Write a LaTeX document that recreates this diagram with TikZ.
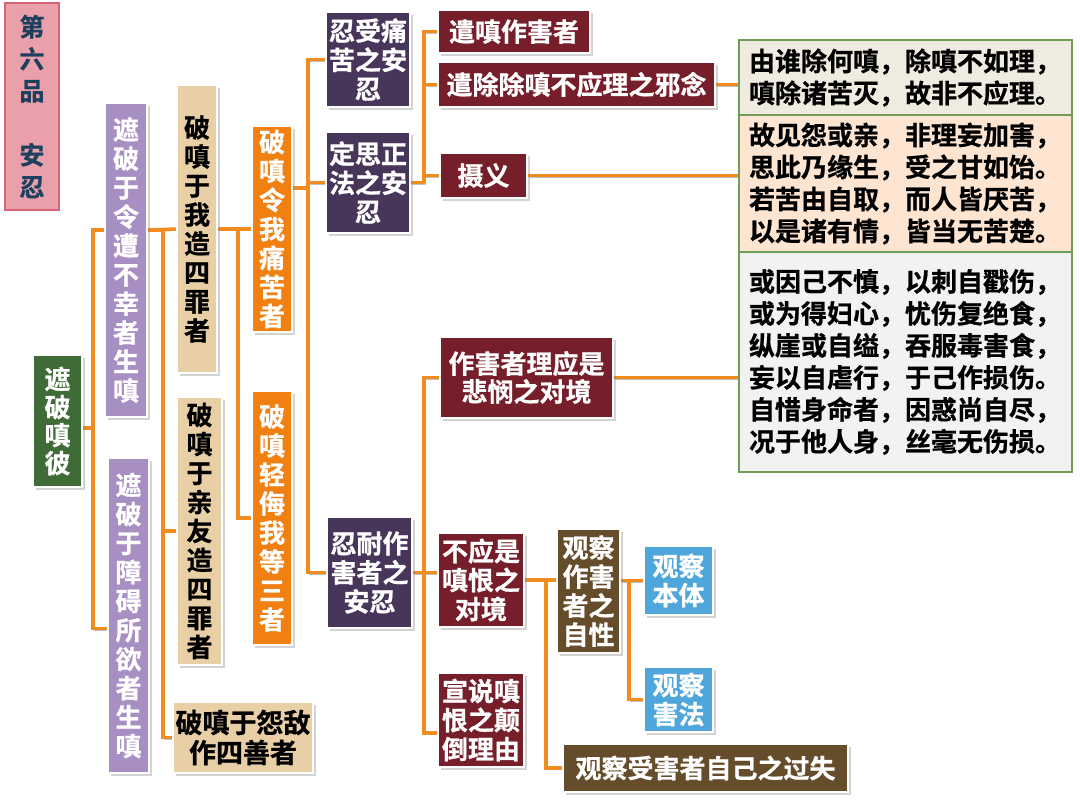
\documentclass[tikz,border=0pt]{standalone}
\usepackage{fontspec}
\setmainfont{Noto Sans CJK SC}[BoldFont={Noto Sans CJK SC Bold}, BoldFeatures={FakeBold=0.8}]
\usetikzlibrary{shadows, backgrounds, calc}
\definecolor{titlepink}{RGB}{233,160,170}
\definecolor{titleline}{RGB}{215,100,115}
\definecolor{titleblue}{RGB}{28,64,94}
\definecolor{leafgreen}{RGB}{63,107,55}
\definecolor{lilac}{RGB}{168,143,195}
\definecolor{sand}{RGB}{233,207,166}
\definecolor{vivid}{RGB}{240,128,18}
\definecolor{plum}{RGB}{71,54,90}
\definecolor{wine}{RGB}{118,30,42}
\definecolor{umber}{RGB}{101,76,42}
\definecolor{sky}{RGB}{78,166,218}
\definecolor{noteA}{RGB}{240,235,225}
\definecolor{noteB}{RGB}{253,229,210}
\definecolor{noteC}{RGB}{242,242,242}
\definecolor{noteline}{RGB}{110,158,85}
\definecolor{linkorange}{RGB}{242,140,30}

\begin{document}
\begin{tikzpicture}[x=1pt, y=-1pt,
    box/.style={inner sep=0pt, draw=white, line width=1.6pt, text=white, align=center,
        font=\bfseries\fontsize{26}{29}\selectfont,
        drop shadow={shadow xshift=2.5pt, shadow yshift=-2.5pt, opacity=0.35}},
    wh/.style 2 args={minimum width=#1pt, minimum height=#2pt},
    note/.style={inner xsep=10pt, inner ysep=0pt, draw=noteline, line width=1.4pt,
        text width=313pt, align=left, font=\bfseries\fontsize{26}{32}\selectfont},
    link/.style={draw=linkorange, line width=3.5pt,
        preaction={draw=black!25, transform canvas={shift={(1.5pt,-1.5pt)}}}}]
    \useasboundingbox (0,0) rectangle (1080,807);

    \node[inner sep=0pt, wh={54}{207}, fill=titlepink, draw=titleline, line width=2pt,
        text=titleblue, align=center, font=\bfseries\fontsize{25}{32}\selectfont]
        (title) at (32,106.5) {第\\六\\品\\[32pt]安\\忍};

    \node[box, wh={49}{132}, fill=leafgreen, font=\bfseries\fontsize{26}{28}\selectfont]
        (zp) at (57.5,421) {遮\\破\\嗔\\彼};

    \node[box, wh={42}{314}, fill=lilac] (pu1) at (126,260) {遮\\破\\于\\令\\遭\\不\\幸\\者\\生\\嗔};
    \node[box, wh={41}{315}, fill=lilac] (pu2) at (128.5,615.5) {遮\\破\\于\\障\\碍\\所\\欲\\者\\生\\嗔};

    \node[box, wh={40}{288}, fill=sand, text=black] (tan1) at (197,229) {破\\嗔\\于\\我\\造\\四\\罪\\者};
    \node[box, wh={45}{268}, fill=sand, text=black] (tan2) at (199.5,531) {破\\嗔\\于\\亲\\友\\造\\四\\罪\\者};
    \node[box, wh={140}{71}, fill=sand, text=black, font=\bfseries\fontsize{27}{30}\selectfont]
        (tan3) at (243,737.5) {破嗔于怨敌\\作四善者};

    \node[box, wh={40}{206}, fill=vivid] (or1) at (272,229) {破\\嗔\\令\\我\\痛\\苦\\者};
    \node[box, wh={40}{254}, fill=vivid] (or2) at (272,518) {破\\嗔\\轻\\侮\\我\\等\\三\\者};

    \node[box, wh={84}{95}, fill=plum] (dp1) at (368,59.5) {忍受痛\\苦之安\\忍};
    \node[box, wh={84}{101}, fill=plum] (dp2) at (368,182.5) {定思正\\法之安\\忍};
    \node[box, wh={85}{111}, fill=plum] (dp3) at (369.5,572.5) {忍耐作\\害者之\\安忍};

    \node[box, wh={152}{43}, fill=wine] (m1) at (514,31.5) {遣嗔作害者};
    \node[box, wh={277}{45}, fill=wine] (m2) at (576.5,84.5) {遣除除嗔不应理之邪念};
    \node[box, wh={87}{45}, fill=wine] (m3) at (483.5,175.5) {摄义};
    \node[box, wh={173}{81}, fill=wine, font=\bfseries\fontsize{26}{28}\selectfont]
        (m4) at (526.5,377.5) {作害者理应是\\悲悯之对境};
    \node[box, wh={86}{94}, fill=wine] (m5) at (481,580) {不应是\\嗔恨之\\对境};
    \node[box, wh={86}{94}, fill=wine] (m6) at (481,720) {宣说嗔\\恨之颠\\倒理由};

    \node[box, wh={63}{124}, fill=umber] (br1) at (588.5,591) {观察\\作害\\者之\\自性};
    \node[box, wh={285}{48}, fill=umber] (br2) at (705.5,768) {观察受害者自己之过失};

    \node[box, wh={69}{69}, fill=sky] (bl1) at (678.5,580.5) {观察\\本体};
    \node[box, wh={69}{65}, fill=sky] (bl2) at (678.5,699.5) {观察\\害法};

    \node[note, wh={333}{75}, fill=noteA] (tx1) at (905.5,77.5)
        {由谁除何嗔，除嗔不如理，\\嗔除诸苦灭，故非不应理。};
    \node[note, wh={333}{137}, fill=noteB] (tx2) at (905.5,183.5)
        {故见怨或亲，非理妄加害，\\思此乃缘生，受之甘如饴。\\若苦由自取，而人皆厌苦，\\以是诸有情，皆当无苦楚。};
    \node[note, wh={333}{220}, fill=noteC] (tx3) at (905.5,362)
        {或因己不慎，以刺自戳伤，\\或为得妇心，忧伤复绝食，\\纵崖或自缢，吞服毒害食，\\妄以自虐行，于己作损伤。\\自惜身命者，因惑尚自尽，\\况于他人身，丝毫无伤损。};

    \begin{scope}[on background layer]
        \draw[link] ([yshift=-7pt]zp.east) -- ++(10,0) coordinate (b0) |- ([yshift=30pt]pu1.west);
        \draw[link] (b0) |- ([yshift=-13pt]pu2.west);

        \draw[link] ([yshift=30pt]pu1.east) -- (tan1.west);
        \draw[link] ([yshift=30pt]pu1.east) -- ++(15,0) coordinate (b1) |- (tan2.west);
        \draw[link] (b1) |- (tan3.west);

        \draw[link] (tan1.east) -- (or1.west);
        \draw[link] (tan1.east) -- ++(20,0) |- (or2.west);

        \draw[link] ([yshift=41pt]or1.east) -- ++(15,0) coordinate (b2) |- (dp1.west);
        \draw[link] (b2) |- (dp2.west);
        \draw[link] (b2) |- (dp3.west);

        \draw[link] (dp2.east) -- ++(13,0) coordinate (b3) |- (m1.west);
        \draw[link] (b3) |- (m2.west);
        \draw[link] (b3) |- (m3.west);

        \draw[link] (m2.east) -- (m2.east -| tx1.west);
        \draw[link] (m3.east) -- (m3.east -| tx2.west);
        \draw[link] (m4.east) -- (m4.east -| tx3.west);

        \draw[link] (dp3.east) -- (dp3.east -| m5.west);
        \draw[link] (dp3.east) -- ++(11,0) coordinate (b4) |- (m4.west);
        \draw[link] (b4) |- ([yshift=-13pt]m6.west);

        \draw[link] (m5.east) -- (m5.east -| br1.west);
        \draw[link] ([xshift=21pt]m5.east) |- (br2.west);

        \draw[link] (br1.east |- bl1.west) -- (bl1.west);
        \draw[link] ([xshift=8pt]br1.east |- bl1.west) |- (bl2.west);
    \end{scope}
\end{tikzpicture}
\end{document}
